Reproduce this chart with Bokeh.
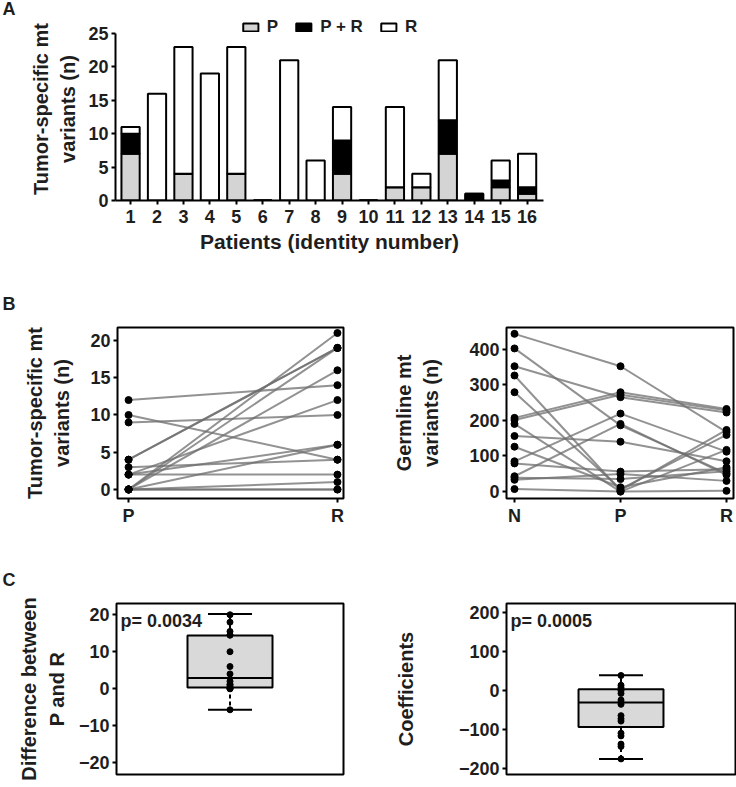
from bokeh.plotting import figure
from bokeh.models import Range1d, Legend, LegendItem, Label, FixedTicker, ColumnDataSource
from bokeh.layouts import column, row
from bokeh.embed import file_html
from bokeh.resources import INLINE

FONT = "Liberation Sans"
TXT = "#1e1e1e"

# ---------------- data ----------------
patients = list(range(1, 17))
p_only = [7, 0, 4, 0, 4, 0, 0, 0, 4, 0, 2, 2, 7, 0, 2, 1]
p_and_r = [3, 0, 0, 0, 0, 0, 0, 0, 5, 0, 0, 0, 5, 1, 1, 1]
r_only = [1, 16, 19, 19, 19, 0, 21, 6, 5, 0, 12, 2, 9, 0, 3, 5]
stack_names = ["P", "P + R", "R"]
stack_colors = ["#d4d4d4", "#000000", "#ffffff"]

tumor_p = [10, 0, 4, 0, 4, 0, 0, 0, 9, 0, 2, 2, 12, 0, 3, 2]
tumor_r = [4, 16, 19, 19, 19, 0, 21, 6, 10, 0, 12, 2, 14, 1, 4, 6]

germ_n = [443, 402, 352, 326, 279, 207, 201, 190, 156, 126, 85, 79, 43, 39, 33, 7]
germ_p = [352, 186, 265, 3, 7, 279, 272, 0, 140, 12, 219, 56, 190, 35, 49, 0]
germ_r = [167, 51, 222, 173, 159, 232, 228, 117, 85, 68, 112, 63, 47, 57, 30, 2]

diff_points = [20, 18, 15.5, 14.5, 14.5, 10, 6, 4, 2, 1.2, 1, 0.5, 0, 0, 0, -5.7]
diff_box = dict(q1=0.3, median=2.9, q3=14.4, low=-5.7, high=20.2)
diff_p = "p= 0.0034"

coef_points = [39, 14, 8, 0, -7, -24, -30, -35, -64, -72, -78, -109, -116, -137, -143, -175]
coef_box = dict(q1=-93, median=-30, q3=3.4, low=-175, high=39.5)
coef_p = "p= 0.0005"


def style_axes(p, ytitle, standoff, ticks, outline=True):
    p.grid.visible = False
    p.background_fill_color = "white"
    p.border_fill_color = "white"
    if outline:
        p.outline_line_color = "black"
        p.outline_line_width = 2
    else:
        p.outline_line_color = None
    for ax in p.axis:
        ax.major_label_text_font = FONT
        ax.major_label_text_font_style = "bold"
        ax.major_label_text_font_size = "18px"
        ax.major_label_text_color = TXT
        ax.major_tick_line_color = "black"
        ax.major_tick_line_width = 2
        ax.major_tick_out = 4
        ax.major_tick_in = 0
        ax.minor_tick_line_color = None
        ax.major_label_standoff = 3
        ax.axis_label_text_font = FONT
        ax.axis_label_text_font_style = "bold"
        ax.axis_label_text_color = TXT
        ax.axis_line_width = 2
        ax.axis_line_color = None if outline else "black"
    p.yaxis.ticker = FixedTicker(ticks=ticks)
    p.yaxis.axis_label = ytitle
    p.yaxis.axis_label_text_font_size = "20px"
    p.yaxis.axis_label_text_line_height = 1.25
    p.yaxis.axis_label_standoff = standoff


def letter(p, text, offset, standoff):
    p.title.text = text
    p.title.align = "left"
    p.title.vertical_align = "top"
    p.title.offset = offset
    p.title.standoff = standoff
    p.title.text_font = FONT
    p.title.text_font_style = "bold"
    p.title.text_font_size = "18px"
    p.title.text_color = TXT


# ---------------- panel A ----------------
srcA = ColumnDataSource(dict(patient=patients, P=p_only, PR=p_and_r, R=r_only))
pA = figure(width=736, height=280, x_range=Range1d(0.43, 16.62), y_range=Range1d(0, 27.4),
            min_border_left=115, min_border_right=193, min_border_top=17, min_border_bottom=80,
            output_backend="svg", toolbar_location=None)
rs = pA.vbar_stack(["P", "PR", "R"], x="patient", width=0.69, source=srcA,
                   fill_color=stack_colors, line_color="black", line_width=2)
style_axes(pA, "Tumor-specific mt\nvariants (n)", 6, [0, 5, 10, 15, 20, 25], outline=False)
pA.yaxis.bounds = (0, 25)
pA.xaxis.ticker = FixedTicker(ticks=patients)
pA.xaxis.axis_label = "Patients (identity number)"
pA.xaxis.axis_label_text_font_size = "21px"
pA.xaxis.axis_label_standoff = 4
pA.xaxis.major_label_standoff = 5
legA = Legend(items=[LegendItem(label=n, renderers=[r]) for n, r in zip(stack_names, rs)],
              orientation="horizontal", location="top_center",
              border_line_color=None, background_fill_alpha=0,
              label_text_font=FONT, label_text_font_style="bold", label_text_font_size="17px",
              label_text_color=TXT, glyph_width=19, glyph_height=10, label_standoff=7,
              spacing=16, padding=0, margin=0, label_height=12, label_width=0)
pA.add_layout(legA)
letter(pA, "A", -113, -6)

# ---------------- panel B left ----------------
pB1 = figure(width=375, height=268, x_range=Range1d(-0.053, 1.029), y_range=Range1d(-1.21, 21.74),
             min_border_left=117, min_border_right=32, min_border_top=47, min_border_bottom=50,
             output_backend="svg", toolbar_location=None)
pB1.multi_line(xs=[[0, 1] for _ in tumor_p], ys=[[a, b] for a, b in zip(tumor_p, tumor_r)],
               line_color="#6e6e6e", line_alpha=0.75, line_width=2)
pB1.scatter([0] * len(tumor_p), tumor_p, size=7, color="black")
pB1.scatter([1] * len(tumor_r), tumor_r, size=7, color="black")
style_axes(pB1, "Tumor-specific mt\nvariants (n)", 14, [0, 5, 10, 15, 20])
pB1.xaxis.ticker = FixedTicker(ticks=[0, 1])
pB1.xaxis.major_label_overrides = {0: "P", 1: "R"}
letter(pB1, "B", -115, 24)

# ---------------- panel B right ----------------
pB2 = figure(width=361, height=268, x_range=Range1d(-0.0755, 2.066), y_range=Range1d(-19.5, 460.8),
             min_border_left=131, min_border_right=3, min_border_top=47, min_border_bottom=50,
             output_backend="svg", toolbar_location=None)
pB2.multi_line(xs=[[0, 1, 2] for _ in germ_n],
               ys=[[a, b, c] for a, b, c in zip(germ_n, germ_p, germ_r)],
               line_color="#6e6e6e", line_alpha=0.75, line_width=2)
for xi, vals in enumerate([germ_n, germ_p, germ_r]):
    pB2.scatter([xi] * len(vals), vals, size=7, color="black")
style_axes(pB2, "Germline mt\nvariants (n)", 24, [0, 100, 200, 300, 400])
pB2.xaxis.ticker = FixedTicker(ticks=[0, 1, 2])
pB2.xaxis.major_label_overrides = {0: "N", 1: "P", 2: "R"}


# ---------------- panel C ----------------
def boxpanel(width, left, right, yr, stats, pts, ticks, title, standoff, ptxt, bw, cw):
    p = figure(width=width, height=239, x_range=Range1d(-1, 1), y_range=Range1d(*yr),
               min_border_left=left, min_border_right=right, min_border_top=55, min_border_bottom=13,
               x_axis_location=None, output_backend="svg", toolbar_location=None)
    p.segment(x0=[0, 0], x1=[0, 0], y0=[stats["q3"], stats["q1"]], y1=[stats["high"], stats["low"]],
              line_color="black", line_width=2, line_dash="4 3")
    p.vbar(x=[0], width=bw, bottom=[stats["q1"]], top=[stats["q3"]],
           fill_color="#d9d9d9", line_color="black", line_width=2)
    p.segment(x0=[-bw / 2, -cw / 2, -cw / 2], x1=[bw / 2, cw / 2, cw / 2],
              y0=[stats["median"], stats["high"], stats["low"]],
              y1=[stats["median"], stats["high"], stats["low"]],
              line_color="black", line_width=2)
    p.scatter([0] * len(pts), pts, size=6, color="black")
    style_axes(p, title, standoff, ticks)
    p.add_layout(Label(x=4, y=164, x_units="screen", y_units="screen", text=ptxt,
                       text_font=FONT, text_font_style="bold", text_font_size="18px",
                       text_color=TXT, text_baseline="top"))
    return p


pC1 = boxpanel(375, 116, 32, (-23.2, 23.05), diff_box, diff_points, [-20, -10, 0, 10, 20],
               "Difference between\nP and R", 8, diff_p, 0.749, 0.388)
letter(pC1, "C", -114, 24)
pC2 = boxpanel(361, 131, 1, (-215, 223.7), coef_box, coef_points, [-200, -100, 0, 100, 200],
               "Coefficients", 39, coef_p, 0.742, 0.384)

layout = column(pA, row(pB1, pB2), row(pC1, pC2))
open("out.html", "w").write(file_html(layout, INLINE))
